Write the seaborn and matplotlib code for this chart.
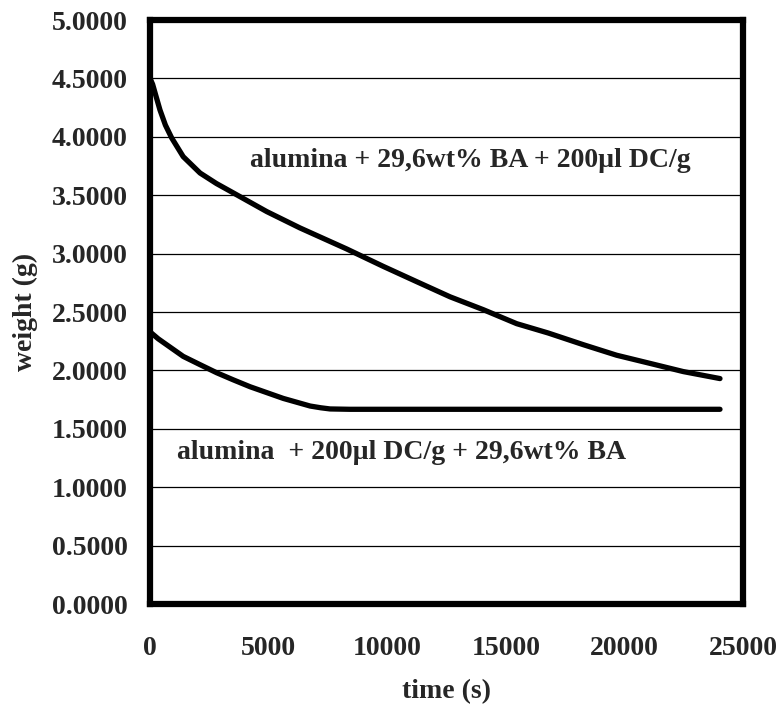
import matplotlib
matplotlib.use("Agg")
import matplotlib.pyplot as plt
import seaborn as sns
import pandas as pd
from matplotlib.ticker import FormatStrFormatter

# Data
time_upper = [0, 110, 250, 420, 650, 915, 1400, 2110, 2800, 3510, 4920, 6320, 8290, 9840,
              11240, 12650, 14050, 15460, 16790, 18270, 19670, 21080, 22480, 24030]
weight_upper = [4.50, 4.45, 4.35, 4.23, 4.10, 3.99, 3.83, 3.69, 3.60, 3.52, 3.36, 3.22, 3.04, 2.89,
                2.76, 2.63, 2.52, 2.40, 2.32, 2.22, 2.13, 2.06, 1.99, 1.93]

time_lower = [0, 350, 700, 1400, 2100, 2810, 3500, 4220, 5620, 6750, 7200, 7590, 8430,
              12000, 16000, 20000, 24030]
weight_lower = [2.33, 2.27, 2.22, 2.12, 2.05, 1.98, 1.92, 1.86, 1.76, 1.695, 1.68, 1.67, 1.667,
                1.667, 1.667, 1.667, 1.667]

label_upper = "alumina + 29,6wt% BA + 200µl DC/g"
label_lower = "alumina  + 200µl DC/g + 29,6wt% BA"

x_ticks = [0, 5000, 10000, 15000, 20000, 25000]
y_ticks = [0.0, 0.5, 1.0, 1.5, 2.0, 2.5, 3.0, 3.5, 4.0, 4.5, 5.0]

df = pd.concat([
    pd.DataFrame({"time": time_upper, "weight": weight_upper, "series": label_upper}),
    pd.DataFrame({"time": time_lower, "weight": weight_lower, "series": label_lower}),
])

sns.set_style("white")
plt.rcParams['font.family'] = ['Liberation Serif', 'DejaVu Serif']
plt.rcParams['font.weight'] = 'bold'

FS = 20

fig = plt.figure(figsize=(7.79, 7.06), dpi=100)
ax = fig.add_axes([150/779, 1 - 604/706, (743-150)/779, (604-20)/706])

sns.lineplot(data=df, x="time", y="weight", hue="series", palette=["black", "black"],
             linewidth=3.8, legend=False, ax=ax, sort=False, estimator=None,
             solid_capstyle="round", solid_joinstyle="round")

ax.set_xlim(0, 25000)
ax.set_ylim(0, 5)
ax.set_xticks(x_ticks)
ax.set_yticks(y_ticks)
ax.yaxis.set_major_formatter(FormatStrFormatter('%.4f'))
ax.grid(axis='y', color='black', linewidth=0.9)
ax.grid(axis='x', visible=False)
ax.set_axisbelow(True)
for s in ax.spines.values():
    s.set_linewidth(4.5)
    s.set_color('black')
ax.tick_params(axis='both', direction='out', length=6, width=1, color='black',
               labelsize=FS)
ax.tick_params(axis='y', pad=10)
ax.tick_params(axis='x', pad=17)
for lab in ax.get_xticklabels() + ax.get_yticklabels():
    lab.set_fontweight('bold')

ax.set_xlabel("time (s)", fontsize=FS, fontweight='bold', labelpad=13)
ax.set_ylabel("weight (g)", fontsize=FS, fontweight='bold', labelpad=10)

ax.text(4200, 3.80, label_upper, fontsize=FS, fontweight='bold', va='center', ha='left')
ax.text(1150, 1.30, label_lower, fontsize=FS, fontweight='bold', va='center', ha='left')

fig.savefig("out.png", dpi=100)
